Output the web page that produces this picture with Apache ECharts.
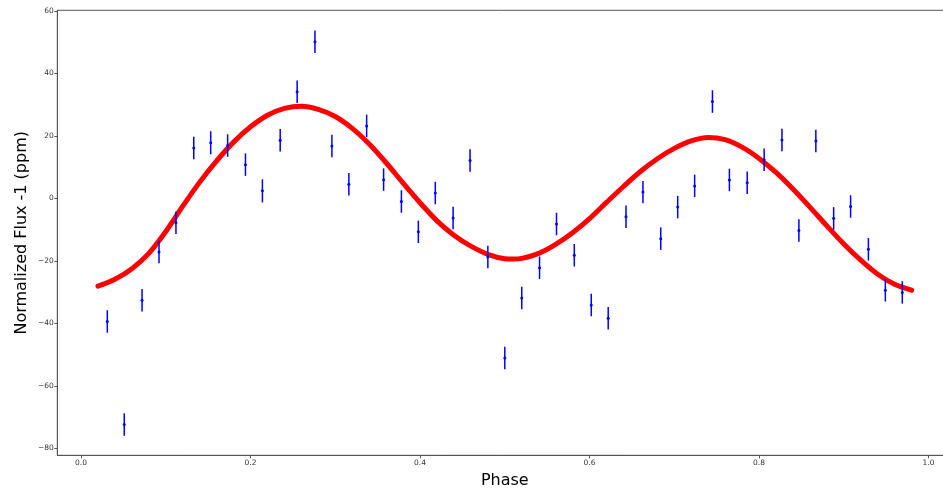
<!DOCTYPE html>
<html>
<head>
<meta charset="utf-8">
<script src="https://cdn.jsdelivr.net/npm/echarts@6/dist/echarts.min.js"></script>
<style>
  html, body { margin: 0; padding: 0; background: #ffffff; }
  #chart { width: 943px; height: 491px; }
</style>
</head>
<body>
<div id="chart"></div>
<script>
// Binned phase-folded photometry (phase, normalized flux - 1 in ppm, 1-sigma error)
const phase = [
  0.031, 0.051, 0.072, 0.092, 0.112, 0.133, 0.153, 0.173, 0.194, 0.214,
  0.235, 0.255, 0.276, 0.296, 0.316, 0.337, 0.357, 0.378, 0.398, 0.418,
  0.439, 0.459, 0.480, 0.500, 0.520, 0.541, 0.561, 0.582, 0.602, 0.622,
  0.643, 0.663, 0.684, 0.704, 0.724, 0.745, 0.765, 0.786, 0.806, 0.827,
  0.847, 0.867, 0.888, 0.908, 0.929, 0.949, 0.969
];
const flux = [
  -39.4, -72.4, -32.6, -17.2, -7.8, 16.1, 17.8, 16.9, 10.8, 2.4,
  18.6, 34.1, 50.1, 16.8, 4.5, 23.2, 6.0, -1.0, -10.7, 1.7,
  -6.3, 12.1, -18.8, -51.1, -31.9, -22.2, -8.2, -18.2, -34.1, -38.4,
  -5.9, 2.0, -12.9, -2.8, 4.0, 31.0, 5.9, 5.0, 12.4, 18.7,
  -10.3, 18.4, -6.4, -2.6, -16.3, -29.4, -30.1
];
const fluxErr = [
  3.6, 3.6, 3.6, 3.6, 3.6, 3.6, 3.7, 3.6, 3.6, 3.7,
  3.6, 3.6, 3.6, 3.6, 3.6, 3.6, 3.6, 3.6, 3.6, 3.6,
  3.6, 3.6, 3.6, 3.6, 3.6, 3.6, 3.6, 3.6, 3.6, 3.6,
  3.6, 3.6, 3.6, 3.6, 3.6, 3.6, 3.6, 3.6, 3.6, 3.6,
  3.6, 3.6, 3.6, 3.6, 3.6, 3.6, 3.6
];

// Phase-curve model sampled along phase
const modelPhase = [
  0.02, 0.04, 0.06, 0.08, 0.10, 0.12, 0.14, 0.16, 0.18, 0.20,
  0.22, 0.24, 0.26, 0.28, 0.30, 0.32, 0.34, 0.36, 0.38, 0.40,
  0.42, 0.44, 0.46, 0.48, 0.50, 0.51, 0.52, 0.54, 0.56, 0.58, 0.60,
  0.62, 0.64, 0.66, 0.68, 0.70, 0.72, 0.74, 0.76, 0.78, 0.80,
  0.82, 0.84, 0.86, 0.88, 0.90, 0.92, 0.94, 0.96, 0.98
];
const modelFlux = [
  -28.1, -25.9, -22.5, -17.6, -10.6, -2.5, 5.2, 12.0, 18.0, 22.9,
  26.6, 28.8, 29.5, 28.5, 26.2, 22.4, 17.4, 11.4, 4.9, -1.4,
  -7.2, -11.8, -15.3, -17.9, -19.3, -19.4, -19.2, -17.6, -14.7, -11.0, -6.5,
  -1.3, 3.8, 8.6, 12.7, 16.0, 18.4, 19.5, 18.8, 16.4, 12.8,
  8.3, 3.0, -2.8, -8.8, -14.6, -19.8, -24.3, -27.5, -29.4
];

const xTicks = [0.0, 0.2, 0.4, 0.6, 0.8, 1.0];
const yTicks = [-80, -60, -40, -20, 0, 20, 40, 60];

const FONT = 'DejaVu Sans';
const spine = '#555555';

const chart = echarts.init(document.getElementById('chart'), null, { renderer: 'canvas' });

function errorBar(params, api) {
  const x = api.value(0), y = api.value(1), e = api.value(2);
  const hi = api.coord([x, y + e]);
  const lo = api.coord([x, y - e]);
  const c = api.coord([x, y]);
  return {
    type: 'group',
    children: [
      { type: 'line', shape: { x1: hi[0], y1: hi[1], x2: lo[0], y2: lo[1] },
        style: { stroke: '#0000ff', lineWidth: 1.5 } },
      { type: 'circle', shape: { cx: c[0], cy: c[1], r: 1.5 },
        style: { fill: '#0000ff' } }
    ]
  };
}

const minus = s => String(s).replace('-', '\u2212');

chart.setOption({
  animation: false,
  backgroundColor: '#ffffff',
  grid: {
    left: 57.3, top: 10.3, width: 895, height: 445,
    outerBoundsMode: 'none',
    containLabel: false,
    show: true, borderColor: spine, borderWidth: 1, backgroundColor: 'transparent'
  },
  xAxis: {
    type: 'value',
    min: -0.028, max: 1.028,
    name: 'Phase',
    nameLocation: 'middle',
    nameGap: 17.5,
    nameMoveOverlap: false,
    nameTextStyle: { fontFamily: FONT, fontSize: 16, color: '#000000' },
    axisLine: { show: true, onZero: false, lineStyle: { color: spine, width: 1 } },
    axisTick: { show: true, customValues: xTicks, length: 3, lineStyle: { color: spine } },
    axisLabel: {
      customValues: xTicks, margin: 4,
      fontFamily: FONT, fontSize: 7.5, color: '#333333',
      formatter: v => Number(v).toFixed(1)
    },
    splitLine: { show: false }
  },
  yAxis: {
    type: 'value',
    min: -82.24, max: 60.2,
    name: 'Normalized Flux -1 (ppm)',
    nameLocation: 'middle',
    nameRotate: 90,
    nameGap: 27,
    nameMoveOverlap: false,
    nameTextStyle: { fontFamily: FONT, fontSize: 16, color: '#000000' },
    axisLine: { show: true, onZero: false, lineStyle: { color: spine, width: 1 } },
    axisTick: { show: true, customValues: yTicks, length: 3, lineStyle: { color: spine } },
    axisLabel: {
      customValues: yTicks, margin: 3.5,
      fontFamily: FONT, fontSize: 7.5, color: '#333333',
      formatter: v => minus(v)
    },
    splitLine: { show: false }
  },
  series: [
    {
      name: 'model',
      type: 'line',
      data: modelPhase.map((p, i) => [p, modelFlux[i]]),
      smooth: 0.3,
      symbol: 'none',
      lineStyle: { color: '#ff0000', width: 5, cap: 'round', join: 'round' },
      z: 2
    },
    {
      name: 'binned',
      type: 'custom',
      renderItem: errorBar,
      encode: { x: 0, y: 1 },
      data: phase.map((p, i) => [p, flux[i], fluxErr[i]]),
      z: 3
    }
  ]
});
</script>
</body>
</html>
